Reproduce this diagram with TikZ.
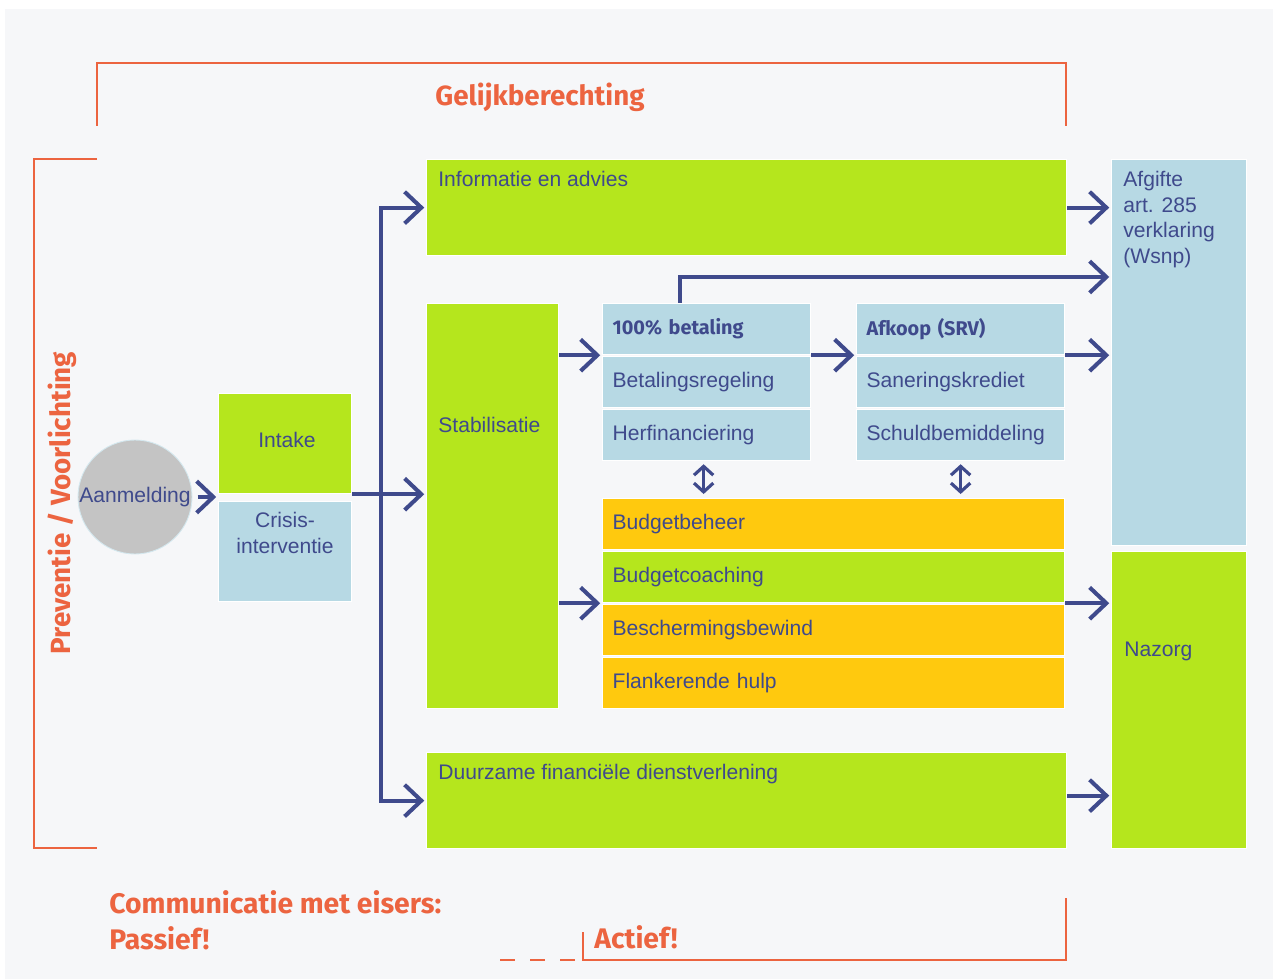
\documentclass[tikz,border=0pt]{standalone}
\usepackage{fontspec}
\setmainfont{Liberation Sans}
\newfontfamily\headfont{Fira Sans}
\usetikzlibrary{arrows.meta, positioning}

\definecolor{lime}{HTML}{B5E61D}
\definecolor{sun}{HTML}{FFC90E}
\definecolor{sky}{HTML}{B7D9E4}
\definecolor{ink}{HTML}{3F4A8C}
\definecolor{flame}{HTML}{EC6440}
\definecolor{paper}{HTML}{F6F7F9}
\definecolor{stone}{HTML}{C4C4C4}

\begin{document}
\begin{tikzpicture}[x=0.02cm, y=-0.02cm]
    % Define display styles
    \tikzset{
        box/.style 2 args={draw=white, line width=0.7pt, inner sep=0pt, anchor=north west,
            minimum width=#1*0.02cm, minimum height=#2*0.02cm},
        row/.style={box={#1}{51}, text=ink, align=left, inner xsep=10*0.02cm,
            text width=(#1-20)*0.02cm, font=\fontsize{12}{14.5}\selectfont},
        txt/.style={text=ink, inner sep=0pt, align=left, font=\fontsize{12}{14.5}\selectfont},
        bold/.style={font=\headfont\bfseries\fontsize{11.3}{14}\selectfont},
        head/.style={text=flame, inner sep=0pt, font=\headfont\bfseries\fontsize{15.8}{18}\selectfont},
        bighead/.style={head, font=\headfont\bfseries\fontsize{16.1}{20}\selectfont},
        bracket/.style={draw=flame, line width=1.1pt},
        flow/.style={draw=ink, line width=2.3pt, -{Straight Barb[length=9.5pt, width=18pt]}, shorten >=1pt},
        dbl/.style={draw=ink, line width=1.8pt,
            {Straight Barb[length=5pt, width=11pt]}-{Straight Barb[length=5pt, width=11pt]}}
    }

    % Background
    \fill[white] (0,0) rectangle (1273,979);
    \fill[paper] (5,9) rectangle (1273,979);

    % Brackets and their labels
    \draw[bracket] (97,126) -- (97,63) -- (1066,63) -- (1066,126);
    \node[head] (gelijk) at (540,97) {Gelijkberechting};

    \draw[bracket] (97,159) -- (34,159) -- (34,848) -- (97,848);
    \node[head, rotate=90] (prev) at (62,503) {Preventie / Voorlichting};

    \draw[bracket, dash pattern=on 15*0.02cm off 15*0.02cm] (500,960) -- (583,960);
    \draw[bracket] (583,932) -- (583,960) -- (1066,960) -- (1066,898);
    \node[bighead, anchor=west] (comm) at (109,902) {Communicatie met eisers:};
    \node[bighead, anchor=west] (pass) at (109,938) {Passief!};
    \node[bighead, anchor=west] (act) at (594,937) {Actief!};

    % Entry
    \node[circle, fill=stone, draw=sky!60, line width=0.5pt, minimum size=114*0.02cm, inner sep=0pt,
        text=ink, font=\fontsize{12}{14.5}\selectfont] (aanm) at (135,497) {Aanmelding};
    \node[box={133}{100}, fill=lime] (intake) at (218,393) {};
    \node[txt] (intakelbl) at (287,440) {Intake};
    \node[box={133}{100}, fill=sky] (crisis) at (218,501) {};
    \node[txt, align=center] (crisislbl) at (285,533) {Crisis-\\interventie};

    % Main blocks
    \node[box={640}{96}, fill=lime] (info) at (426,159) {};
    \node[txt, anchor=north west] (infolbl) at (438,171) {Informatie en advies};
    \node[box={132}{405}, fill=lime] (stab) at (426,303) {};
    \node[txt, anchor=north west] (stablbl) at (438,417) {Stabilisatie};
    \node[box={640}{96}, fill=lime] (duur) at (426,752) {};
    \node[txt, anchor=north west] (duurlbl) at (438,764) {Duurzame financi\"ele dienstverlening};
    \node[box={135}{386}, fill=sky] (afg) at (1111,159) {};
    \node[txt, anchor=north west] (afglbl) at (1123,171) {Afgifte\\art. 285\\verklaring\\(Wsnp)};
    \node[box={135}{297}, fill=lime] (naz) at (1111,551) {};
    \node[txt, anchor=north west] (nazlbl) at (1124,642) {Nazorg};

    % Payment options
    \node[row=208, fill=sky, bold] (pay1) at (602,303) {100\% betaling};
    \node[row=208, fill=sky] (pay2) at (602,356) {Betalingsregeling};
    \node[row=208, fill=sky] (pay3) at (602,409) {Herfinanciering};
    \node[row=208, fill=sky, bold] (afk1) at (856,303) {Afkoop (SRV)};
    \node[row=208, fill=sky] (afk2) at (856,356) {Saneringskrediet};
    \node[row=208, fill=sky] (afk3) at (856,409) {Schuldbemiddeling};

    % Budget support
    \node[row=462, fill=sun] (bud1) at (602,498) {Budgetbeheer};
    \node[row=462, fill=lime] (bud2) at (602,551) {Budgetcoaching};
    \node[row=462, fill=sun] (bud3) at (602,604) {Beschermingsbewind};
    \node[row=462, fill=sun] (bud4) at (602,657) {Flankerende hulp};

    % Connectors
    \coordinate (split) at (381,495);
    \draw[flow, shorten <=3pt] (aanm) -- (aanm -| intake.west);
    \draw[flow] (intake.south east) -- (intake.south east -| stab.west);
    \draw[flow] (split) |- (info.west);
    \draw[flow] (split) |- (duur.west);

    \draw[flow] (stab.east |- pay1.south west) -- (pay1.south west);
    \draw[flow] (pay1.south east) -- (afk1.south west);
    \draw[flow] (afk1.south east) -- (afk1.south east -| afg.west);
    \draw[flow] ([shift={(-27,0)}]pay1.north) |- ([shift={(0,118)}]afg.north west);
    \draw[flow] (info.east) -- (info.east -| afg.west);

    \draw[dbl] ([shift={(-3,3)}]pay3.south) -- ([shift={(-3,-4)}]pay3.south |- bud1.north);
    \draw[dbl] ([shift={(0,3)}]afk3.south) -- ([shift={(0,-4)}]afk3.south |- bud1.north);

    \draw[flow] (stab.east |- bud2.south west) -- (bud2.south west);
    \draw[flow] (bud2.south east) -- (bud2.south east -| naz.west);
    \draw[flow] ([shift={(0,-5)}]duur.east) -- ([shift={(0,-5)}]duur.east -| naz.west);
\end{tikzpicture}
\end{document}
